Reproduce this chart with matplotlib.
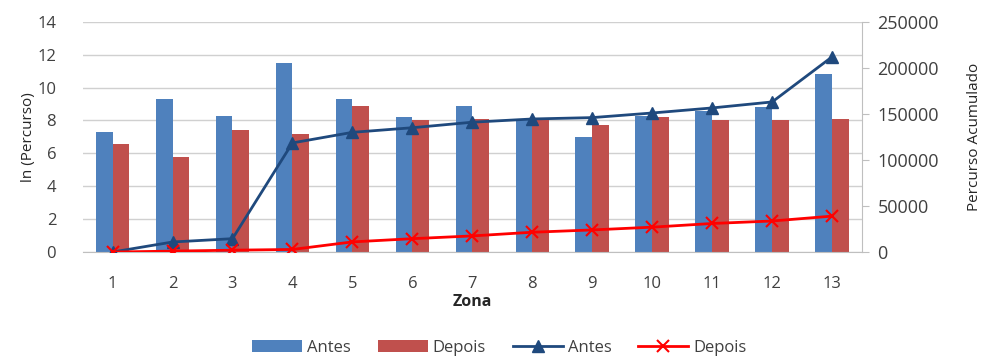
import matplotlib
matplotlib.use("Agg")
import matplotlib.pyplot as plt
import numpy as np

plt.rcParams['font.family'] = ['Open Sans', 'DejaVu Sans']

zones = [str(i) for i in range(1, 14)]
ln_antes = [7.3, 9.3, 8.3, 11.5, 9.3, 8.2, 8.9, 8.1, 7.0, 8.3, 8.6, 8.8, 10.8]
ln_depois = [6.6, 5.8, 7.4, 7.2, 8.9, 8.0, 8.1, 8.1, 7.7, 8.2, 8.0, 8.0, 8.1]
acum_antes = [0, 10900, 14500, 118500, 130000, 135000, 141000, 144500, 146000, 151000, 156500, 163000, 212000]
acum_depois = [0, 1000, 2000, 2800, 11000, 14500, 17500, 21500, 24000, 27000, 31000, 33700, 39000]

fig = plt.figure(figsize=(9.83, 3.58), dpi=100)
ax = fig.add_axes([0.084, 0.296, 0.793, 0.643])
x = np.arange(len(zones))
w = 0.28
ax.bar(x - w/2, ln_antes, w, color='#4F81BD', label='Antes', zorder=2)
ax.bar(x + w/2, ln_depois, w, color='#C0504D', label='Depois', zorder=2)
ax.set_ylim(0, 14)
ax.set_yticks(range(0, 15, 2))
ax.set_xlim(-0.5, len(zones) - 0.5)
ax.set_xticks(x)
ax.set_xticklabels(zones)
ax.yaxis.grid(True, color='#D0D0D0', linewidth=1, zorder=0)
ax.set_axisbelow(True)
for s in ['top', 'right', 'left']:
    ax.spines[s].set_visible(False)
ax.spines['bottom'].set_color('#BFBFBF')
ax.tick_params(axis='x', length=0, labelsize=12, colors='#404040', pad=17)
ax.tick_params(axis='y', length=0, labelsize=12, colors='#404040', pad=19)
ax.set_xlabel('Zona', fontsize=11.5, fontweight='bold', color='#262626', labelpad=2)
ax.set_ylabel('ln (Percurso)', fontsize=11, color='#262626', labelpad=1)

ax2 = ax.twinx()
ax2.plot(x, acum_antes, color='#1F497D', marker='^', markersize=8, linewidth=2, label='Antes', zorder=3)
ax2.plot(x, acum_depois, color='#FF0000', marker='x', markersize=8, markeredgewidth=1.5, linewidth=2, label='Depois', zorder=3)
ax2.set_ylim(0, 250000)
ax2.set_yticks(range(0, 250001, 50000))
for s in ['top', 'left', 'bottom']:
    ax2.spines[s].set_visible(False)
ax2.spines['right'].set_color('#BFBFBF')
ax2.tick_params(axis='y', length=5, color='#BFBFBF', labelsize=13, colors='#404040', pad=6)
ax2.set_ylabel('Percurso Acumulado', fontsize=11, color='#262626', labelpad=20)

h1, l1 = ax.get_legend_handles_labels()
h2, l2 = ax2.get_legend_handles_labels()
fig.legend(h1 + h2, l1 + l2, loc='lower center', bbox_to_anchor=(0.508, -0.036), ncol=4,
           frameon=False, fontsize=12, handlelength=3, columnspacing=1.6, handletextpad=0.3,
           labelcolor='#404040')

fig.savefig('out.png', dpi=100)
